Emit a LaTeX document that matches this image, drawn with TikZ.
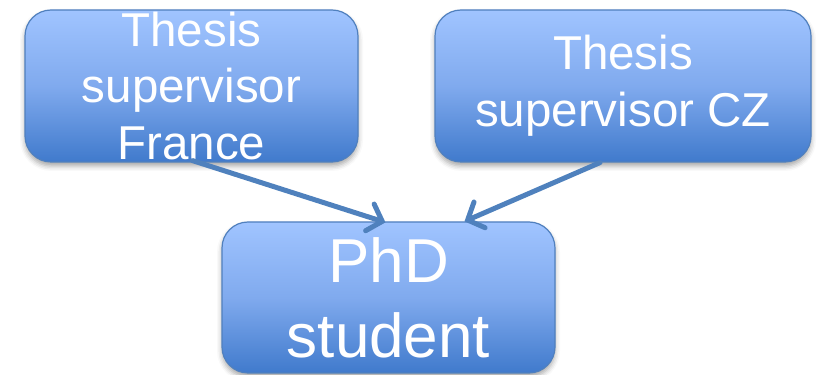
\documentclass[tikz,border=0pt]{standalone}
\usepackage{fontspec}
\setmainfont{Liberation Sans}
\usetikzlibrary{positioning,arrows.meta,shadows.blur}
\definecolor{boxtop}{RGB}{160,196,255}
\definecolor{boxmid}{RGB}{128,170,238}
\definecolor{boxbot}{RGB}{64,122,204}
\definecolor{boxline}{RGB}{80,128,190}
\definecolor{arrowblue}{RGB}{79,129,189}
\begin{document}
\begin{tikzpicture}[x=1pt,y=1pt,
  rolebox/.style={draw=boxline, line width=1.2pt, rounded corners=26pt,
    top color=boxtop, bottom color=boxbot, middle color=boxmid,
    blur shadow={shadow xshift=0pt, shadow yshift=-4pt, shadow blur radius=5pt, shadow opacity=35},
    text=white, align=center, inner sep=0pt},
  link/.style={draw=arrowblue, line width=5pt, line cap=round,
    -{Straight Barb[length=13pt,width=28pt,line cap=round]}}]
\useasboundingbox (0,0) rectangle (820,375);
\node[rolebox, minimum width=333pt, minimum height=152pt,
  font=\fontsize{47.5}{56.5}\selectfont] (sf) at (191.5,289)
  {Thesis\\supervisor\\France};
\node[rolebox, minimum width=376pt, minimum height=152pt,
  font=\fontsize{47.5}{57}\selectfont] (cz) at (623,289)
  {Thesis\\supervisor CZ};
\node[rolebox, minimum width=333pt, minimum height=151pt,
  font=\fontsize{62}{75}\selectfont] (phd) at (388.5,77.5)
  {PhD\\student};
\draw[link] ([xshift=1pt,yshift=2pt]sf.south) -- ([xshift=-3pt,yshift=-1pt]phd.north);
\draw[link] ([xshift=-23pt]cz.south) -- ([xshift=76pt]phd.north);
\end{tikzpicture}
\end{document}
